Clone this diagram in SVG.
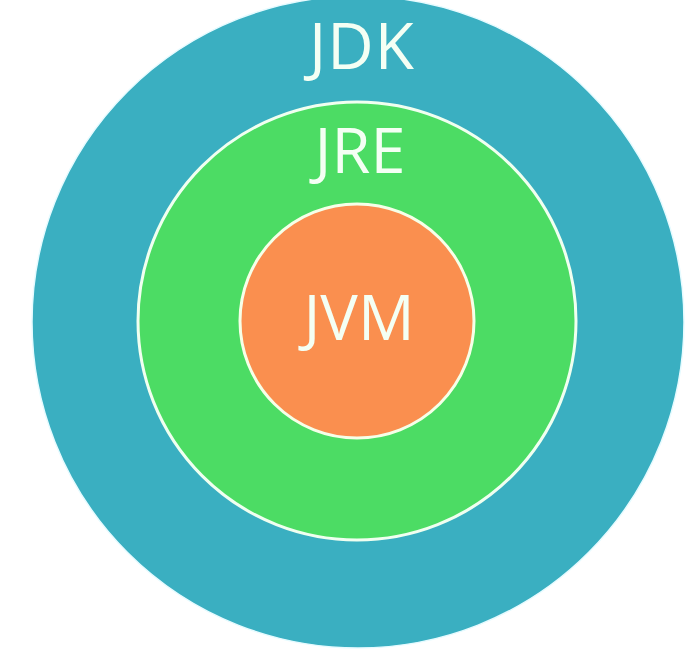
<svg xmlns="http://www.w3.org/2000/svg" width="699" height="653" viewBox="0 0 699 653">
<style>
.lbl{font-family:"Open Sans","Noto Sans","DejaVu Sans",sans-serif;font-size:63px;fill:#f4fff4;text-anchor:middle;}
</style>
<rect width="699" height="653" fill="#ffffff"/>
<g id="jdk">
<circle cx="358" cy="322" r="326" fill="#3aafc1" stroke="#e6fbff" stroke-width="1.5"/>
<text class="lbl" x="362" y="69" style="font-size:64px;letter-spacing:1px">JDK</text>
</g>
<g id="jre">
<circle cx="357" cy="321" r="219" fill="#4cdc64" stroke="#f0fff0" stroke-width="3"/>
<text class="lbl" x="360" y="173">JRE</text>
</g>
<g id="jvm">
<circle cx="357" cy="321" r="117" fill="#fa8f4f" stroke="#f6ffe8" stroke-width="3"/>
<text class="lbl" x="359" y="340">JVM</text>
</g>
<g id="connectors"></g>
</svg>
